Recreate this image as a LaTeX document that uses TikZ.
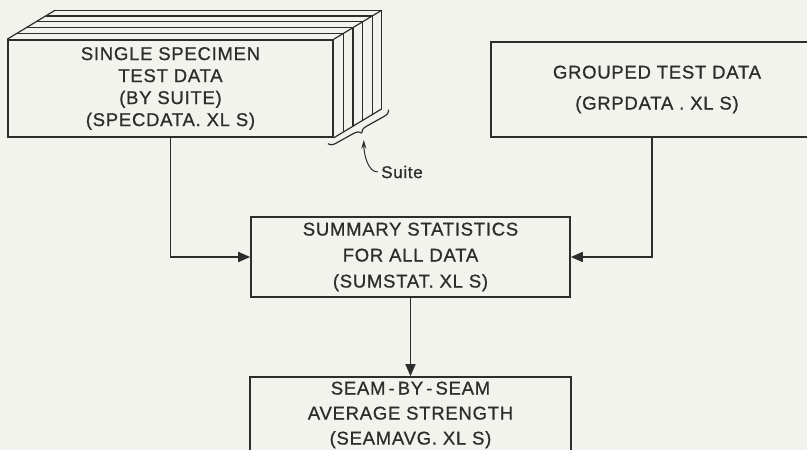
\documentclass[tikz,border=0pt]{standalone}
\usepackage{fontspec}
\setmainfont{Liberation Sans}[LetterSpace=4, FakeBold=0.8]
\usetikzlibrary{positioning,arrows.meta,decorations.pathreplacing}
\definecolor{ink}{RGB}{45,45,45}
\definecolor{paper}{RGB}{243,243,238}

\begin{document}
\begin{tikzpicture}[x=1pt, y=-1pt, color=ink,
    box/.style = {rectangle, draw, line width=1.6pt, align=center},
    arr/.style = {-{Triangle[length=12pt,width=10pt]}, line width=1.6pt},
    page/.style = {line width=1.2pt}]
    \fill[paper] (0,0) rectangle (807,450);
    \useasboundingbox (0,0) rectangle (807,450);

    \node[box, minimum width=325pt, minimum height=97pt, font=\fontsize{18.5}{22}\selectfont] (spec) at (170.5,88.5)
        {SINGLE SPECIMEN\\TEST DATA\\(BY SUITE)\\(SPECDATA. XL S)};
    \node[box, minimum width=332pt, minimum height=95pt, font=\fontsize{18.5}{31}\selectfont] (grp) at (657,89.5)
        {GROUPED TEST DATA\\(GRPDATA . XL S)};
    \node[box, minimum width=319pt, minimum height=80pt, font=\fontsize{18.5}{26}\selectfont] (sum) at (410.5,257)
        {SUMMARY STATISTICS\\FOR ALL DATA\\(SUMSTAT. XL S)};
    \node[box, minimum width=321pt, minimum height=76pt, font=\fontsize{18.5}{25}\selectfont] (seam) at (410.5,415)
        {SEAM\,-\,BY\,-\,SEAM\\AVERAGE STRENGTH\\(SEAMAVG. XL S)};

    \foreach \k in {1,...,5}
        \draw[page] ([shift={(\k*9.6,-\k*5.8)}]spec.north west) -| ([shift={(\k*9.6,-\k*5.8)}]spec.south east);
    \draw[page] (spec.north west) -- +(48,-29) (spec.north east) -- +(48,-29) (spec.south east) -- +(48,-29);

    \coordinate (b1) at ([shift={(55,-28)}]spec.south east);
    \coordinate (b2) at ([shift={(-6,6)}]spec.south east);
    \coordinate (tip) at ([shift={(30,2)}]spec.south east);
    \draw[page, decorate, decoration={brace, amplitude=7pt}] (b1) -- (b2);

    \node[font=\fontsize{17}{16}\selectfont] (suite) at (402,172) {Suite};
    \draw[-{Stealth[length=9pt,width=5pt]}, line width=1pt] (suite.west) .. controls +(-10,0) and +(0,14) .. (tip);

    \draw[arr] (spec.south) |- (sum.west);
    \draw[arr] ([xshift=-5pt]grp.south) |- (sum.east);
    \draw[arr] (sum.south) -- (seam.north);
\end{tikzpicture}
\end{document}
